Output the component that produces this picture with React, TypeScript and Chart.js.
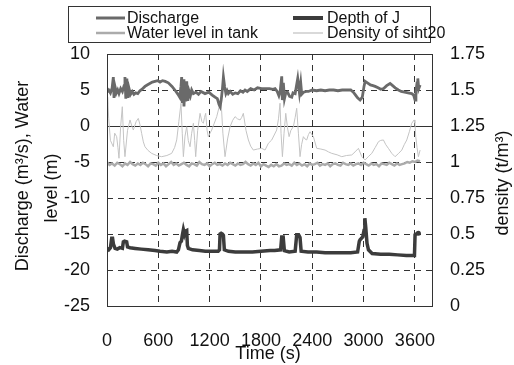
import React, { useEffect, useRef } from "react";
import { Chart, registerables } from "chart.js";

Chart.register(...registerables);

// ---- data ----
const xTickValues = [0, 600, 1200, 1800, 2400, 3000, 3600];

const dischargeT = [0, 20, 40, 60, 74, 82, 95, 110, 125, 140, 160, 180, 200, 210, 220, 232, 245, 258, 275, 295, 315, 335, 360, 385, 410, 444, 470, 500, 530, 561, 590, 620, 650, 680, 717, 760, 800, 830, 850, 865, 873, 880, 890, 900, 912, 922, 932, 945, 960, 975, 990, 1010, 1040, 1070, 1100, 1146, 1190, 1230, 1263, 1290, 1310, 1322, 1335, 1350, 1361, 1375, 1390, 1405, 1419, 1440, 1470, 1500, 1530, 1560, 1590, 1614, 1640, 1680, 1720, 1760, 1809, 1850, 1900, 1940, 1965, 1990, 2010, 2025, 2043, 2050, 2062, 2075, 2090, 2110, 2135, 2160, 2175, 2200, 2230, 2238, 2250, 2265, 2277, 2300, 2330, 2355, 2400, 2450, 2500, 2550, 2600, 2650, 2700, 2750, 2800, 2850, 2880, 2900, 2930, 2959, 2985, 3005, 3018, 3045, 3080, 3110, 3135, 3170, 3200, 3235, 3270, 3310, 3340, 3370, 3407, 3440, 3480, 3520, 3563, 3585, 3602, 3612, 3625, 3634, 3645, 3661];
const dischargeV = [4.7, 5.0, 4.6, 5.3, 6.8, 3.9, 5.4, 4.6, 5.0, 4.5, 5.2, 4.8, 5.6, 6.8, 3.8, 6.6, 3.9, 5.2, 4.4, 4.8, 4.4, 4.6, 4.5, 4.9, 5.1, 5.5, 5.7, 5.9, 6.1, 6.2, 6.3, 6.1, 6.3, 6.2, 6.0, 5.5, 4.9, 4.4, 4.0, 5.5, 6.8, 3.2, 6.5, 2.7, 5.8, 3.4, 6.2, 3.5, 4.8, 4.2, 5.0, 4.5, 4.7, 4.4, 4.8, 4.5, 4.7, 4.3, 4.0, 3.8, 3.0, 2.7, 3.6, 5.2, 6.8, 5.5, 4.5, 4.9, 4.5, 4.8, 4.4, 4.6, 4.5, 4.9, 4.7, 5.0, 4.8, 5.2, 5.0, 5.3, 5.2, 5.2, 5.2, 5.1, 5.2, 4.8, 4.2, 4.8, 6.9, 3.6, 6.0, 3.8, 4.6, 4.7, 4.1, 4.0, 4.6, 4.5, 6.6, 5.8, 4.6, 6.0, 4.4, 4.7, 4.8, 4.8, 5.0, 4.9, 5.0, 4.9, 5.0, 5.0, 4.9, 5.0, 5.0, 5.0, 4.7, 4.4, 3.9, 3.6, 4.0, 5.5, 6.2, 6.0, 5.7, 5.6, 5.5, 5.3, 5.1, 5.2, 5.6, 5.9, 5.6, 5.3, 5.0, 4.8, 4.7, 4.6, 4.5, 4.3, 3.6, 4.8, 6.0, 6.6, 5.2, 5.7];

const waterStep = 30;
const waterV = [-5.0, -5.4, -5.2, -5.5, -5.1, -5.3, -5.6, -5.2, -5.4, -5.0, -5.3, -5.5, -5.2, -5.4, -5.1, -5.3, -5.6, -5.2, -5.3, -5.5, -5.1, -5.4, -5.2, -5.6, -5.3, -5.0, -5.4, -5.2, -5.5, -5.3, -5.1, -5.4, -5.6, -5.2, -5.3, -5.5, -5.0, -5.3, -5.4, -5.2, -5.6, -5.3, -5.1, -5.4, -5.3, -5.5, -5.2, -5.4, -5.1, -5.3, -5.5, -5.2, -5.4, -5.3, -5.0, -5.3, -5.5, -5.2, -5.4, -5.1, -5.6, -5.3, -5.5, -5.7, -5.4, -5.6, -5.3, -5.6, -5.5, -5.2, -5.4, -5.3, -5.5, -5.1, -5.4, -5.2, -5.5, -5.3, -5.6, -5.2, -5.4, -5.3, -5.1, -5.5, -5.3, -5.4, -5.2, -5.6, -5.3, -5.2, -5.4, -5.5, -5.1, -5.3, -5.4, -5.2, -5.5, -5.3, -5.2, -5.4, -5.1, -5.3, -5.5, -5.2, -5.4, -5.3, -5.6, -5.2, -5.3, -5.4, -5.1, -5.3, -5.5, -5.2, -5.4, -5.3, -5.2, -5.0, -5.1, -4.9, -5.0, -4.8, -4.9];

const densityT = [0, 8, 20, 40, 74, 90, 113, 128, 140, 160, 179, 195, 210, 240, 269, 290, 308, 340, 366, 385, 405, 425, 444, 480, 522, 580, 639, 700, 756, 790, 815, 840, 865, 880, 893, 912, 932, 950, 971, 990, 1010, 1025, 1037, 1060, 1088, 1110, 1127, 1140, 1154, 1170, 1185, 1205, 1224, 1255, 1283, 1310, 1333, 1355, 1380, 1410, 1439, 1470, 1497, 1525, 1556, 1575, 1594, 1625, 1653, 1680, 1711, 1760, 1809, 1848, 1887, 1926, 1984, 2005, 2023, 2035, 2051, 2070, 2090, 2110, 2129, 2150, 2179, 2200, 2218, 2238, 2257, 2275, 2296, 2315, 2335, 2355, 2374, 2413, 2452, 2500, 2550, 2590, 2628, 2690, 2745, 2800, 2862, 2900, 2940, 2979, 3018, 3060, 3096, 3135, 3174, 3200, 3232, 3260, 3290, 3330, 3368, 3410, 3447, 3475, 3505, 3535, 3563, 3591, 3600, 3610, 3625, 3641, 3661];
const densityV = [1.40, 1.45, 1.30, 1.15, 1.106, 1.20, 1.176, 1.10, 1.026, 1.25, 1.384, 1.15, 1.037, 1.22, 1.292, 1.25, 1.222, 1.28, 1.303, 1.26, 1.199, 1.14, 1.106, 1.08, 1.060, 1.045, 1.037, 1.045, 1.060, 1.10, 1.153, 1.28, 1.408, 1.20, 1.037, 1.18, 1.245, 1.15, 1.106, 1.20, 1.269, 1.15, 1.037, 1.22, 1.338, 1.28, 1.269, 1.31, 1.338, 1.22, 1.176, 1.20, 1.222, 1.27, 1.315, 1.38, 1.431, 1.20, 1.037, 1.16, 1.245, 1.29, 1.315, 1.30, 1.292, 1.31, 1.338, 1.22, 1.153, 1.11, 1.083, 1.09, 1.095, 1.083, 1.13, 1.153, 1.222, 1.30, 1.408, 1.20, 1.037, 1.20, 1.338, 1.24, 1.176, 1.22, 1.245, 1.31, 1.373, 1.20, 1.037, 1.12, 1.176, 1.16, 1.153, 1.19, 1.210, 1.176, 1.095, 1.09, 1.083, 1.07, 1.060, 1.05, 1.037, 1.045, 1.049, 1.07, 1.095, 1.037, 1.014, 1.04, 1.060, 1.10, 1.141, 1.15, 1.153, 1.12, 1.095, 1.06, 1.037, 1.06, 1.083, 1.12, 1.153, 1.21, 1.269, 1.292, 1.27, 1.176, 1.10, 1.037, 1.083];

const depthT = [0, 20, 40, 55, 65, 75, 94, 120, 150, 180, 191, 205, 230, 240, 270, 330, 400, 480, 561, 620, 700, 760, 815, 835, 854, 870, 880, 893, 905, 915, 932, 940, 951, 1000, 1080, 1150, 1230, 1300, 1315, 1322, 1335, 1350, 1361, 1372, 1420, 1500, 1600, 1700, 1800, 1906, 1960, 2030, 2043, 2060, 2074, 2130, 2200, 2218, 2240, 2257, 2270, 2350, 2450, 2550, 2650, 2750, 2850, 2930, 2950, 2959, 2990, 3005, 3015, 3025, 3040, 3057, 3100, 3200, 3300, 3400, 3500, 3595, 3602, 3630, 3641];
const depthV = [-17.0, -17.2, -16.9, -15.6, -15.6, -16.4, -17.0, -17.1, -16.9, -17.0, -16.1, -16.0, -16.1, -16.8, -16.9, -17.0, -17.1, -17.2, -17.3, -17.4, -17.5, -17.4, -17.5, -17.2, -16.2, -16.0, -15.2, -14.4, -15.0, -14.6, -14.5, -16.6, -17.0, -17.2, -17.3, -17.4, -17.4, -17.4, -17.2, -15.0, -14.9, -15.0, -15.2, -17.2, -17.4, -17.5, -17.5, -17.5, -17.4, -17.3, -17.3, -17.2, -15.4, -15.4, -17.3, -17.5, -17.4, -15.1, -15.1, -15.5, -17.4, -17.5, -17.5, -17.6, -17.6, -17.6, -17.6, -17.5, -16.0, -15.8, -15.4, -14.5, -12.8, -14.0, -16.3, -17.2, -17.7, -17.8, -17.8, -17.9, -18.0, -18.0, -15.1, -14.9, -14.9];

const legendItems = [
  { label: "Discharge", color: "#6a6a6a", width: 3 },
  { label: "Depth of J", color: "#3c3c3c", width: 4 },
  { label: "Water level in tank", color: "#ababab", width: 2.5 },
  { label: "Density of siht20", color: "#cccccc", width: 1.5 },
];

const FONT = "'Liberation Sans', Arial, Helvetica, sans-serif";

const pairs = (t: number[], v: number[]) => t.map((x, i) => ({ x, y: v[i] }));
const plain = (v: any) => String(Number(Number(v).toFixed(2)));

const overlay = {
  id: "overlay",
  beforeDatasetsDraw(chart: any) {
    const { ctx, chartArea, scales } = chart;
    const y0 = Math.round(scales.y.getPixelForValue(0)) + 0.5;
    ctx.save();
    ctx.strokeStyle = "#333";
    ctx.lineWidth = 1;
    ctx.beginPath();
    ctx.moveTo(chartArea.left, y0);
    ctx.lineTo(chartArea.right, y0);
    ctx.stroke();
    ctx.restore();
  },
  afterDraw(chart: any) {
    const { ctx, chartArea } = chart;
    ctx.save();
    // frame
    ctx.strokeStyle = "#333";
    ctx.lineWidth = 1;
    ctx.strokeRect(
      Math.round(chartArea.left) + 0.5,
      Math.round(chartArea.top) + 0.5,
      Math.round(chartArea.right - chartArea.left),
      Math.round(chartArea.bottom - chartArea.top)
    );
    // legend box
    ctx.strokeRect(68.5, 6.5, 362, 36);
    ctx.font = `16px ${FONT}`;
    ctx.textBaseline = "middle";
    ctx.textAlign = "left";
    const cols = [
      { x0: 96, x1: 125, tx: 127 },
      { x0: 293, x1: 323, tx: 327 },
    ];
    const rows = [18, 33];
    legendItems.forEach((it, i) => {
      const c = cols[i % 2];
      const r = rows[Math.floor(i / 2)];
      ctx.strokeStyle = it.color;
      ctx.lineWidth = it.width;
      ctx.beginPath();
      ctx.moveTo(c.x0, r);
      ctx.lineTo(c.x1, r);
      ctx.stroke();
      ctx.fillStyle = "#111";
      ctx.fillText(it.label, c.tx, r + 1);
    });
    // axis titles
    ctx.font = `18px ${FONT}`;
    ctx.fillStyle = "#111";
    ctx.textAlign = "center";
    ctx.textBaseline = "middle";
    ctx.fillText("Time (s)", 268, 354);
    ctx.save();
    ctx.translate(23, 176);
    ctx.rotate(-Math.PI / 2);
    ctx.fillText("Discharge (m³/s), Water", 0, 0);
    ctx.restore();
    ctx.save();
    ctx.translate(52, 188);
    ctx.rotate(-Math.PI / 2);
    ctx.fillText("level (m)", 0, 0);
    ctx.restore();
    ctx.save();
    ctx.translate(503, 183);
    ctx.rotate(-Math.PI / 2);
    ctx.fillText("density (t/m³)", 0, 0);
    ctx.restore();
    ctx.restore();
  },
};

export default function App() {
  const ref = useRef<HTMLCanvasElement | null>(null);
  useEffect(() => {
    document.body.style.margin = "0";
    const canvas = ref.current;
    if (!canvas) return;
    Chart.defaults.font.family = FONT;
    const dashed = { dash: [6, 5], display: false };
    const chart = new Chart(canvas, {
      type: "line",
      data: {
        datasets: [
          {
            label: "Depth of J",
            data: pairs(depthT, depthV),
            yAxisID: "y",
            borderColor: "#3c3c3c",
            borderWidth: 3.5,
            pointRadius: (c: any) => (c.dataIndex === depthT.length - 1 ? 2.5 : 0),
            pointBackgroundColor: "#3c3c3c",
            pointBorderWidth: 0,
            tension: 0,
          },
          {
            label: "Discharge",
            data: pairs(dischargeT, dischargeV),
            yAxisID: "y",
            borderColor: "#6a6a6a",
            borderWidth: 2.8,
            pointRadius: 0,
            tension: 0,
          },
          {
            label: "Water level in tank",
            data: waterV.map((v, i) => ({ x: i * waterStep, y: v })),
            yAxisID: "y",
            borderColor: "#ababab",
            borderWidth: 2.5,
            pointRadius: 0,
            tension: 0,
          },
          {
            label: "Density of siht20",
            data: pairs(densityT, densityV),
            yAxisID: "y1",
            borderColor: "#c4c4c4",
            borderWidth: 1,
            pointRadius: 0,
            tension: 0,
          },
        ],
      },
      options: {
        animation: false,
        responsive: false,
        maintainAspectRatio: false,
        layout: { padding: { top: 54, left: 0, right: 0, bottom: 0 } },
        plugins: { legend: { display: false }, tooltip: { enabled: false } },
        scales: {
          x: {
            type: "linear",
            min: 0,
            max: 3800,
            afterBuildTicks: (s: any) => {
              s.ticks = xTickValues.map((v) => ({ value: v }));
            },
            afterFit: (s: any) => {
              s.height = 59;
            },
            ticks: { font: { size: 18 }, color: "#111", padding: 24, maxRotation: 0, autoSkip: false, callback: plain },
            grid: { color: "#333", lineWidth: 1, drawTicks: false },
            border: dashed,
          },
          y: {
            type: "linear",
            position: "left",
            min: -25,
            max: 10,
            ticks: { stepSize: 5, font: { size: 18 }, color: "#111", padding: 17, callback: plain },
            afterFit: (s: any) => {
              s.width = 107;
            },
            grid: { color: "#333", lineWidth: 1, drawTicks: false },
            border: dashed,
          },
          y1: {
            type: "linear",
            position: "right",
            min: 0,
            max: 1.75,
            ticks: { stepSize: 0.25, font: { size: 18 }, color: "#111", padding: 18, callback: plain },
            afterFit: (s: any) => {
              s.width = 82;
            },
            grid: { drawOnChartArea: false, drawTicks: false },
            border: { display: false },
          },
        },
      },
      plugins: [overlay],
    } as any);
    return () => chart.destroy();
  }, []);
  return <canvas ref={ref} width={514} height={365} style={{ display: "block" }} />;
}
